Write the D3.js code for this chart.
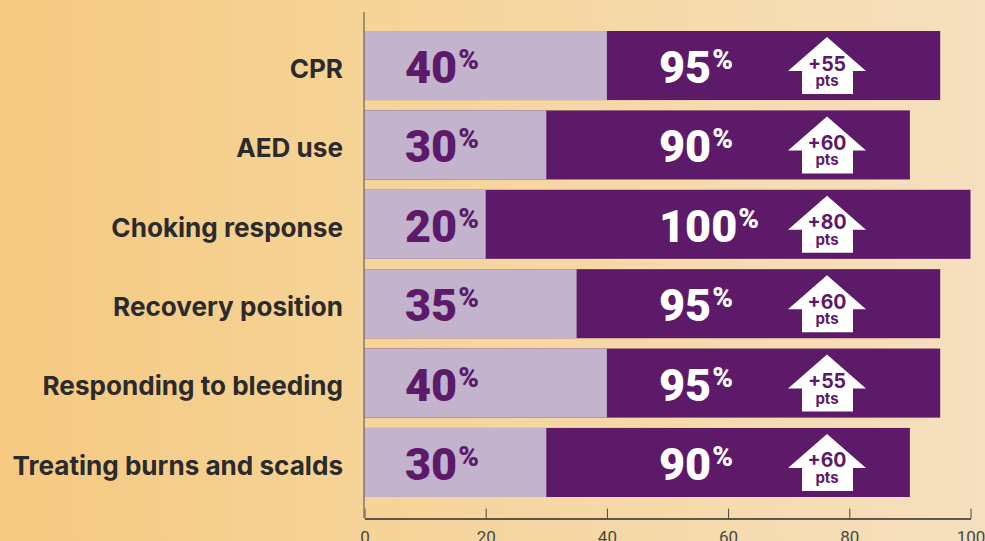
<!DOCTYPE html>
<html>
<head>
<meta charset="utf-8">
<script src="https://cdn.jsdelivr.net/npm/d3@7"></script>
<style>
  html, body { margin: 0; padding: 0; overflow: hidden; }
  svg { display: block; }
</style>
</head>
<body>
<script>
// Chart data
const categories = ["CPR", "AED use", "Choking response", "Recovery position", "Responding to bleeding", "Treating burns and scalds"];
const before = [40, 30, 20, 35, 40, 30];
const after = [95, 90, 100, 95, 95, 90];
const gains = [55, 60, 80, 60, 55, 60];
const xTicks = [0, 20, 40, 60, 80, 100];

// SVG dimensions
const width = 985, height = 541;
const purple = "#5c1a69", lilac = "#c3b3cd", ink = "#2b2a2c";

const svg = d3.select("body").append("svg")
    .attr("width", width)
    .attr("height", height);

// Page background runs left to right
const grad = svg.append("defs").append("linearGradient")
    .attr("id", "bg");
grad.append("stop").attr("offset", "0%").attr("stop-color", "#f5c980");
grad.append("stop").attr("offset", "36%").attr("stop-color", "#f6d396");
grad.append("stop").attr("offset", "100%").attr("stop-color", "#f5e0bf");
svg.append("rect")
    .attr("width", width)
    .attr("height", height)
    .attr("fill", "url(#bg)");

// Scales
const x = d3.scaleLinear().domain([0, 100]).range([364.5, 970.5]);
const y = d3.scaleBand().domain(categories).range([31, 497]).paddingInner(0.13);

// Bottom axis
const xAxis = svg.append("g")
    .attr("transform", "translate(0, 518.5)")
    .call(d3.axisBottom(x).tickValues(xTicks).tickSize(-10).tickPadding(12).tickSizeOuter(0));
xAxis.select(".domain").attr("stroke", ink).attr("stroke-width", 1.3);
xAxis.selectAll(".tick line").attr("stroke", "#4a4744").attr("stroke-width", 1);
xAxis.selectAll("text")
    .attr("fill", "#4a4744")
    .style("font-family", "Roboto, sans-serif")
    .style("font-size", "17px");

// Left axis, category names only
const yAxis = svg.append("g")
    .attr("transform", "translate(364, 0)")
    .call(d3.axisLeft(y).tickSize(0).tickPadding(21));
yAxis.select(".domain").remove();
yAxis.selectAll("text")
    .attr("dy", "0.47em")
    .attr("fill", ink)
    .style("font-family", "Inter, sans-serif")
    .style("font-weight", 700)
    .style("font-size", "26.1px");

const rows = svg.selectAll("g.row")
    .data(categories)
    .enter()
    .append("g")
    .attr("class", "row")
    .attr("transform", (d) => `translate(0, ${y(d)})`);

// Score after training, with score before on top
rows.append("rect")
    .attr("x", x(0))
    .attr("width", (d, i) => x(after[i]) - x(0))
    .attr("height", y.bandwidth())
    .attr("fill", purple);
rows.append("rect")
    .attr("x", x(0))
    .attr("width", (d, i) => x(before[i]) - x(0))
    .attr("height", y.bandwidth())
    .attr("fill", lilac);

// Vertical axis line sits over the bars
svg.append("line")
    .attr("x1", 364).attr("x2", 364)
    .attr("y1", 12).attr("y2", 518)
    .attr("stroke", "#86786a")
    .attr("stroke-width", 1.5);

// Big percentage labels
function addValue(sel, values, xPos, colour) {
    const t = sel.append("text")
        .attr("x", xPos)
        .attr("y", 52)
        .attr("fill", colour)
        .style("font-family", "Roboto, sans-serif")
        .style("font-weight", 900)
        .style("font-size", "45px");
    t.append("tspan").text((d, i) => values[i]);
    t.append("tspan")
        .attr("dx", 1)
        .attr("dy", -14)
        .style("font-size", "28px")
        .text("%");
}
addValue(rows, before, 405, purple);
addValue(rows, after, 659, "#fff");

// Up arrow with points gained
const arrow = rows.append("g").attr("transform", "translate(827, 0)");
arrow.append("path")
    .attr("d", "M0,6L39,40H26V63H-25V40H-39Z")
    .attr("fill", "#fff");
arrow.append("text")
    .attr("y", 39.5)
    .attr("text-anchor", "middle")
    .attr("fill", purple)
    .style("font-family", "Inter, sans-serif")
    .style("font-weight", 700)
    .style("font-size", "19.5px")
    .text((d, i) => `+${gains[i]}`);
arrow.append("text")
    .attr("y", 55)
    .attr("text-anchor", "middle")
    .attr("fill", purple)
    .style("font-family", "Inter, sans-serif")
    .style("font-weight", 700)
    .style("font-size", "15px")
    .text("pts");
</script>
</body>
</html>
